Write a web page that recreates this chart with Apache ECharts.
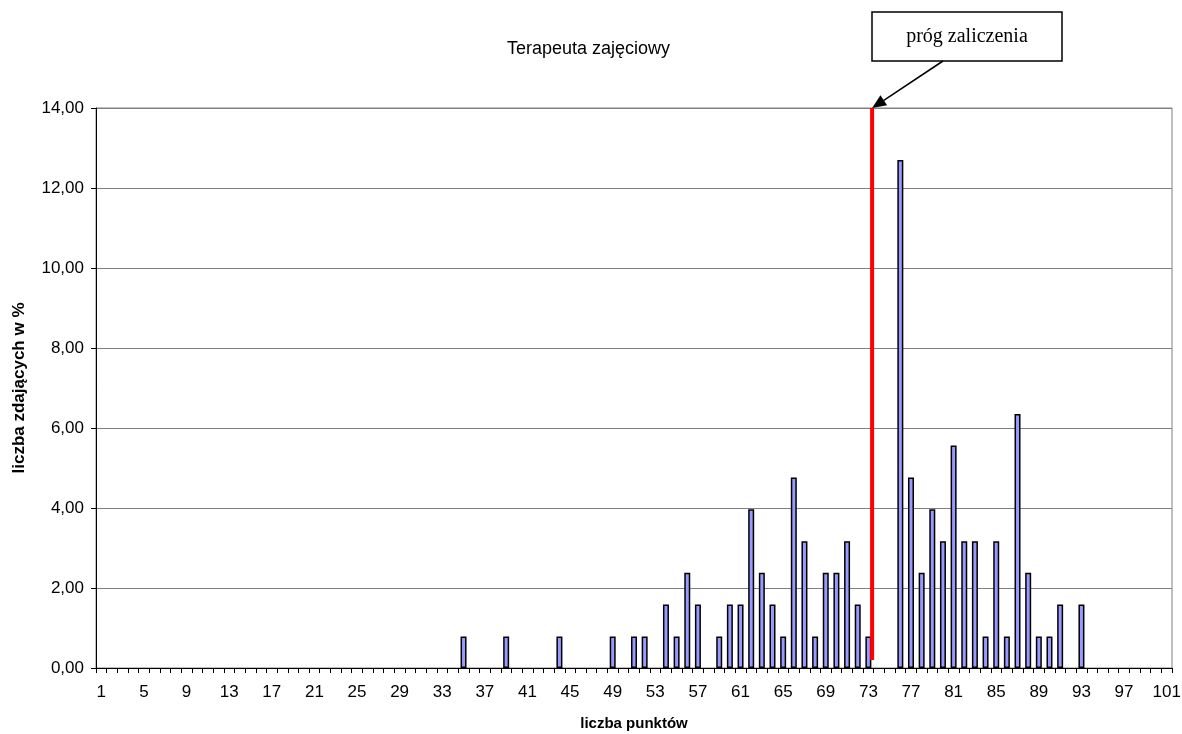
<!DOCTYPE html>
<html>
<head>
<meta charset="utf-8">
<script src="https://cdn.jsdelivr.net/npm/echarts@6/dist/echarts.min.js"></script>
<style>
  html, body { margin: 0; padding: 0; background: #fff; }
  #chart { width: 1182px; height: 734px; }
</style>
</head>
<body>
<div id="chart"></div>
<script>
(function () {

    // points 1..101
    var points = [];
    for (var p = 1; p <= 101; p++) points.push(String(p));

    // share of candidates (%) per score
    var scoredPoints = [35, 39, 44, 49, 51, 52, 54, 55, 56, 57, 59, 60, 61, 62, 63, 64, 65, 66, 67, 68,
        69, 70, 71, 72, 73, 76, 77, 78, 79, 80, 81, 82, 83, 84, 85, 86, 87, 88, 89, 90, 91, 93];
    var scoredShares = [0.79, 0.79, 0.79, 0.79, 0.79, 0.79, 1.59, 0.79, 2.38, 1.59, 0.79, 1.59, 1.59, 3.97, 2.38, 1.59, 0.79, 4.76, 3.17, 0.79,
        2.38, 2.38, 3.17, 1.59, 0.79, 12.70, 4.76, 2.38, 3.97, 3.17, 5.56, 3.17, 3.17, 0.79, 3.17, 0.79, 6.35, 2.38, 0.79, 0.79, 1.59, 1.59];

    // pass threshold line (x in points, y from / to)
    var thresholdX = 73.35;
    var thresholdY = [0.2, 14];

    // scores nobody got stay empty
    var shares = points.map(function () { return '-'; });
    scoredPoints.forEach(function (pt, i) { shares[pt - 1] = scoredShares[i]; });

    var chart = echarts.init(document.getElementById('chart'));

    var option = {
        animation: false,
        textStyle: { fontFamily: 'Liberation Sans, Arial, sans-serif' },
        title: {
            text: 'Terapeuta zajęciowy',
            left: 502,
            top: 35,
            textStyle: { fontSize: 18, fontWeight: 'normal', color: '#000' }
        },
        grid: {
            left: 96,
            right: 10,
            top: 108,
            bottom: 66,
            outerBoundsMode: 'none',
            show: true,
            borderColor: '#808080',
            borderWidth: 1
        },
        xAxis: [
            {
                type: 'category',
                data: points,
                name: 'liczba punktów',
                nameLocation: 'middle',
                nameGap: 48,
                nameTextStyle: { fontSize: 15, fontWeight: 'bold', color: '#000' },
                axisLine: { lineStyle: { color: '#000', width: 1 } },
                axisTick: { show: true, interval: 0, length: 5, lineStyle: { color: '#000' } },
                axisLabel: { interval: 3, fontSize: 17, color: '#000', margin: 16 },
                splitLine: { show: false }
            },
            {
                type: 'value',
                min: 0.5,
                max: 101.5,
                show: false
            }
        ],
        yAxis: {
            type: 'value',
            min: 0,
            max: 14,
            interval: 2,
            name: 'liczba zdających w %',
            nameLocation: 'middle',
            nameGap: 68,
            nameTextStyle: { fontSize: 17, fontWeight: 'bold', color: '#000' },
            axisLine: { show: true, lineStyle: { color: '#000' } },
            axisTick: { show: true, length: 5, lineStyle: { color: '#000' } },
            axisLabel: {
                fontSize: 17,
                color: '#000',
                margin: 12,
                formatter: function (v) { return v.toFixed(2).replace('.', ','); }
            },
            splitLine: { show: true, lineStyle: { color: '#808080', width: 1 } }
        },
        series: [
            {
                type: 'bar',
                data: shares,
                barWidth: 6,
                itemStyle: { color: '#9999ff', borderColor: '#000', borderWidth: 1.5 }
            },
            {
                type: 'line',
                xAxisIndex: 1,
                data: [[thresholdX, thresholdY[0]], [thresholdX, thresholdY[1]]],
                symbol: 'none',
                lineStyle: { color: '#ff0000', width: 4 },
                z: 5
            }
        ]
    };

    chart.setOption(option);

    // callout box with arrow pointing at the top of the threshold line
    var tip = chart.convertToPixel({ xAxisIndex: 1, yAxisIndex: 0 }, [thresholdX, thresholdY[1]]);
    var box = { x: 872, y: 12, w: 190, h: 49 };
    var tail = [943, box.y + box.h];
    var dx = tip[0] - tail[0], dy = tip[1] - tail[1];
    var len = Math.sqrt(dx * dx + dy * dy);
    var ux = dx / len, uy = dy / len;
    var headLen = 14, headHalf = 6;
    var base = [tip[0] - ux * headLen, tip[1] - uy * headLen];

    chart.setOption({
        graphic: [
            {
                type: 'rect',
                shape: { x: box.x, y: box.y, width: box.w, height: box.h },
                style: { fill: '#fff', stroke: '#000', lineWidth: 1.5 },
                z: 10
            },
            {
                type: 'text',
                x: box.x + box.w / 2,
                y: box.y + box.h / 2,
                style: {
                    text: 'próg zaliczenia',
                    font: '20px "Liberation Serif", "Times New Roman", serif',
                    fill: '#000',
                    align: 'center',
                    verticalAlign: 'middle'
                },
                z: 11
            },
            {
                type: 'line',
                shape: { x1: tail[0], y1: tail[1], x2: base[0], y2: base[1] },
                style: { stroke: '#000', lineWidth: 1.5 },
                z: 10
            },
            {
                type: 'polygon',
                shape: {
                    points: [
                        tip,
                        [base[0] - uy * headHalf, base[1] + ux * headHalf],
                        [base[0] + uy * headHalf, base[1] - ux * headHalf]
                    ]
                },
                style: { fill: '#000' },
                z: 10
            }
        ]
    });
})();
</script>
</body>
</html>
